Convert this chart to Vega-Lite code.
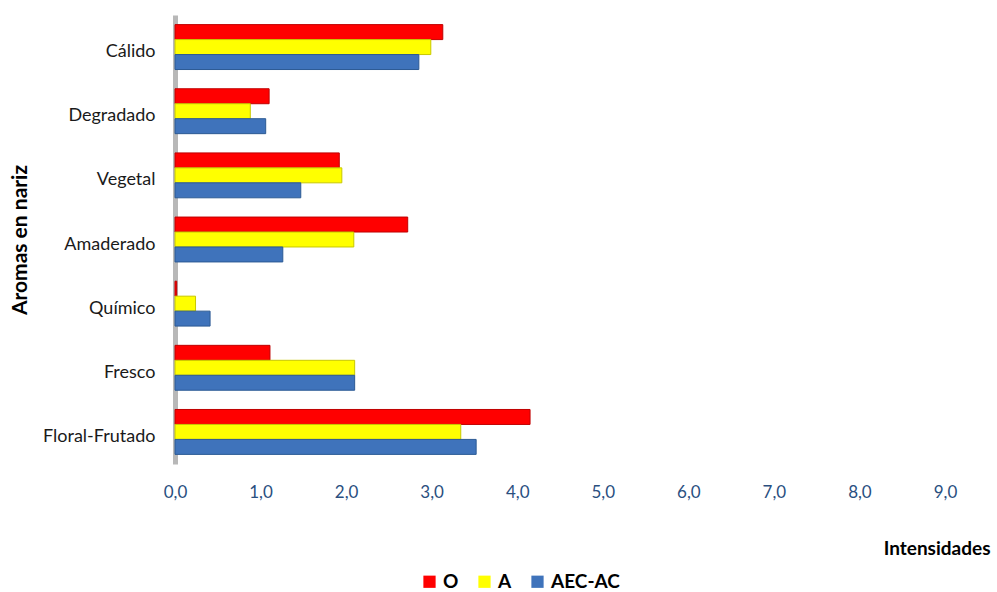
{
  "$schema": "https://vega.github.io/schema/vega-lite/v6.json",
  "autosize": "none",
  "width": 770,
  "height": 449,
  "padding": {"left": 175, "top": 15, "right": 52, "bottom": 128},
  "background": "white",
  "config": {
    "font": "Lato",
    "view": {"stroke": null}
  },
  "data": {
    "values": [
      {"aroma": "Cálido", "serie": "O", "valor": 3.13},
      {"aroma": "Cálido", "serie": "A", "valor": 2.99},
      {"aroma": "Cálido", "serie": "AEC-AC", "valor": 2.85},
      {"aroma": "Degradado", "serie": "O", "valor": 1.1},
      {"aroma": "Degradado", "serie": "A", "valor": 0.88},
      {"aroma": "Degradado", "serie": "AEC-AC", "valor": 1.06},
      {"aroma": "Vegetal", "serie": "O", "valor": 1.92},
      {"aroma": "Vegetal", "serie": "A", "valor": 1.95},
      {"aroma": "Vegetal", "serie": "AEC-AC", "valor": 1.47},
      {"aroma": "Amaderado", "serie": "O", "valor": 2.72},
      {"aroma": "Amaderado", "serie": "A", "valor": 2.09},
      {"aroma": "Amaderado", "serie": "AEC-AC", "valor": 1.26},
      {"aroma": "Químico", "serie": "O", "valor": 0.02},
      {"aroma": "Químico", "serie": "A", "valor": 0.24},
      {"aroma": "Químico", "serie": "AEC-AC", "valor": 0.41},
      {"aroma": "Fresco", "serie": "O", "valor": 1.11},
      {"aroma": "Fresco", "serie": "A", "valor": 2.1},
      {"aroma": "Fresco", "serie": "AEC-AC", "valor": 2.1},
      {"aroma": "Floral-Frutado", "serie": "O", "valor": 4.15},
      {"aroma": "Floral-Frutado", "serie": "A", "valor": 3.34},
      {"aroma": "Floral-Frutado", "serie": "AEC-AC", "valor": 3.52}
    ]
  },
  "mark": {"type": "bar", "strokeWidth": 1},
  "encoding": {
    "y": {
      "field": "aroma",
      "type": "nominal",
      "sort": ["Cálido", "Degradado", "Vegetal", "Amaderado", "Químico", "Fresco", "Floral-Frutado"],
      "scale": {"paddingInner": 0.3, "paddingOuter": 0.15},
      "axis": {
        "title": "Aromas en nariz",
        "titleFontSize": 21,
        "titleFontWeight": "bold",
        "titleColor": "#000000",
        "titleX": -155,
        "titleBaseline": "middle",
        "labelFontSize": 18,
        "labelColor": "#1a1a1a",
        "labelPadding": 20,
        "labelOffset": 5,
        "ticks": false,
        "domainColor": "#b8b8b8",
        "domainWidth": 5,
        "grid": false
      }
    },
    "yOffset": {
      "field": "serie",
      "type": "nominal",
      "sort": ["O", "A", "AEC-AC"]
    },
    "x": {
      "field": "valor",
      "type": "quantitative",
      "scale": {"domain": [0, 9], "nice": false},
      "axis": {
        "title": "Intensidades",
        "titleFontSize": 19,
        "titleFontWeight": "bold",
        "titleColor": "#000000",
        "titleAnchor": "end",
        "titleAlign": "right",
        "titleBaseline": "middle",
        "titleX": 815,
        "titleY": 84,
        "values": [0, 1, 2, 3, 4, 5, 6, 7, 8, 9],
        "format": ".1f",
        "formatType": "number",
        "labelExpr": "replace(datum.label, '.', ',')",
        "labelFontSize": 17,
        "labelFlush": false,
        "labelColor": "#2a4f7f",
        "labelPadding": 20,
        "ticks": false,
        "domain": false,
        "grid": false
      }
    },
    "color": {
      "field": "serie",
      "type": "nominal",
      "sort": ["O", "A", "AEC-AC"],
      "scale": {"domain": ["O", "A", "AEC-AC"], "range": ["#ff0000", "#ffff00", "#3f73bb"]},
      "legend": {
        "title": null,
        "orient": "none",
        "direction": "horizontal",
        "legendX": 245,
        "legendY": 557,
        "symbolType": "square",
        "symbolSize": 150,
        "symbolOpacity": 1,
        "symbolStrokeWidth": 0,
        "labelFontSize": 19,
        "labelFontWeight": "bold",
        "labelColor": "#000000",
        "columnPadding": 16
      }
    },
    "stroke": {
      "field": "serie",
      "type": "nominal",
      "scale": {"domain": ["O", "A", "AEC-AC"], "range": ["#c00000", "#c8c800", "#2c5a94"]},
      "legend": null
    }
  }
}
